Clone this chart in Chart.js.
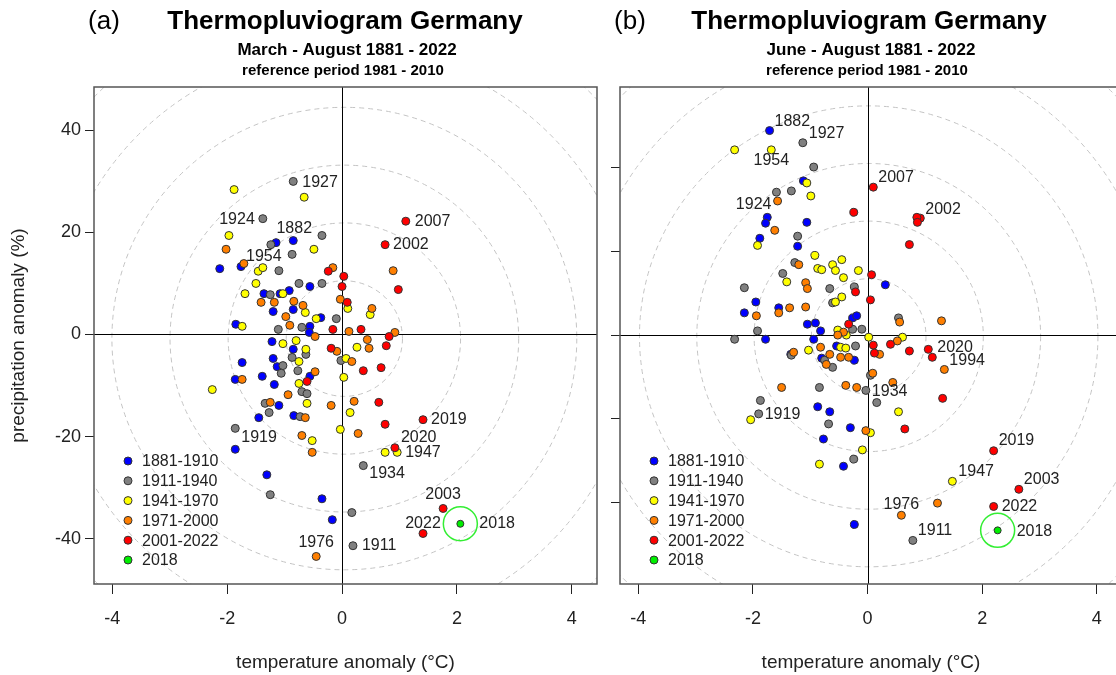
<!DOCTYPE html>
<html>
<head>
<meta charset="utf-8">
<title>Thermopluviogram Germany</title>
<script src="https://cdn.jsdelivr.net/npm/chart.js@4.4.0/dist/chart.umd.min.js"></script>
<style>
  html, body { margin: 0; padding: 0; background: #fff; overflow: hidden; width: 1116px; height: 675px; }
  #chartA { position: absolute; left: 0; top: 0; }
  #chartB { position: absolute; left: 600px; top: 0; }
</style>
</head>
<body>
<canvas id="chartA" width="600" height="675"></canvas>
<canvas id="chartB" width="525" height="675"></canvas>
<script>
// periods and axis ticks
const periods = ['1881-1910', '1911-1940', '1941-1970', '1971-2000', '2001-2022', '2018'];
const xTicks = [-4, -2, 0, 2, 4];
const yTicks = [-40, -20, 0, 20, 40];

// (a) March - August : [temperature anomaly, precipitation anomaly, labelled year]
const a1881 = [[-1.15,18.0],[-0.85,18.4,1882],[-2.13,12.9],[-1.76,13.3],[-0.56,9.4],[-1.36,8.0],[-1.08,8.0],[-0.92,8.6],[-0.85,4.9],[-1.20,4.5],[-0.37,3.3],[-0.56,1.6],[-0.57,0.4],[-1.85,2.0],[-1.22,-1.4],[-0.85,-2.9],[-1.74,-5.5],[-1.20,-4.7],[-1.13,-6.3],[-1.39,-8.2],[-0.56,-8.2],[-1.86,-8.8],[-1.18,-9.8],[-1.10,-13.9],[-1.45,-16.3],[-0.84,-15.9],[-1.86,-22.5],[-1.31,-27.5],[-0.35,-32.2],[-0.17,-36.3]];
const a1911 = [[-0.85,30.0,1927],[-1.38,22.7,1924],[-0.35,19.4],[-1.24,17.6],[-0.87,15.7],[-1.10,12.5],[-0.75,10.0],[-0.35,10.0],[-1.25,7.8],[-0.10,3.1],[-1.11,1.0],[-0.70,1.4],[-0.87,-4.5],[-0.63,-3.9],[-0.02,-5.1],[-1.03,-6.1],[-1.06,-7.6],[-0.77,-7.1],[-0.70,-11.2],[-0.61,-11.6],[-1.34,-13.5],[-1.27,-15.3],[-0.73,-16.1],[-1.86,-18.4,1919],[-1.25,-31.4],[0.17,-34.9],[0.19,-41.4,1911],[0.37,-25.7,1934]];
const a1941 = [[-1.88,28.4],[-0.66,26.9],[-1.97,19.4],[-0.49,16.7],[-1.46,12.4],[-1.38,13.1,1954],[-1.50,10.0],[-1.69,8.0],[-1.03,8.0],[-0.64,4.3],[-0.45,3.1],[-1.74,1.6],[0.10,5.1],[0.49,3.9],[-1.03,-1.8],[-0.80,-1.2],[-0.63,-2.9],[0.07,-4.7],[0.26,-2.5],[-0.75,-5.3],[0.03,-8.4],[-0.75,-9.6],[-2.26,-10.8],[-0.61,-13.5],[0.14,-15.3],[-0.52,-20.8],[-0.03,-18.6],[0.75,-23.1],[0.96,-23.1,1947]];
const a1971 = [[-2.02,16.7],[-1.71,13.9],[-0.16,13.1],[-1.41,6.3],[-1.18,6.3],[-0.84,6.5],[-0.68,5.7],[-0.03,6.9],[0.52,5.1],[0.89,12.5],[-0.98,3.5],[-0.91,1.8],[-0.47,-0.4],[0.12,0.6],[0.92,0.4],[0.44,-1.0],[-0.09,-3.3],[0.47,-2.7],[0.17,-5.3],[-0.47,-7.3],[-1.74,-8.8],[-0.94,-11.8],[-1.25,-13.3],[-0.19,-13.9],[0.21,-13.1],[-0.64,-16.3],[-0.70,-19.8],[-0.52,-23.1],[0.28,-19.4],[-0.45,-43.5,1976]];
const a2001 = [[1.11,22.2,2007],[0.75,17.6,2002],[-0.24,12.4],[0.03,11.4],[0.0,9.4],[0.98,8.8],[0.09,6.3],[-0.16,1.0],[0.33,1.0],[0.82,-0.4],[0.77,-2.2],[-0.19,-2.7],[0.37,-7.1],[0.68,-6.5],[-0.61,-9.2],[0.64,-13.3],[0.75,-17.6],[1.41,-16.7,2019],[0.92,-22.2,2020],[1.76,-34.1,2003],[1.41,-39.0,2022]];
const a2018 = [[2.06,-37.1,2018]];

// (b) June - August
const b1881 = [[-1.71,48.8,1882],[-1.12,36.8],[-1.75,28.1],[-1.78,26.7],[-1.06,26.9],[-1.88,23.1],[-1.22,21.2],[-1.95,7.9],[-2.15,5.3],[-1.55,6.5],[-0.26,4.1],[-0.19,4.6],[-1.05,2.6],[-0.91,2.9],[-0.82,1.0],[-1.78,-1.0],[-0.94,-1.0],[0.31,12.0],[-0.54,-2.6],[-1.34,-4.6],[-0.80,-5.5],[-0.23,-6.0],[-0.87,-17.1],[-0.66,-18.3],[-0.30,-22.1],[-0.77,-24.8],[-0.42,-31.3],[-0.23,-45.2]];
const b1911 = [[-1.13,45.9,1927],[-0.94,40.1],[-1.59,34.1,1924],[-1.33,34.4],[-1.22,23.6],[-1.27,17.3],[-1.48,14.7],[-2.15,11.3],[-0.66,11.1],[-0.23,11.5],[-0.61,7.7],[-1.92,1.0],[-0.10,1.4],[-0.26,1.4],[0.54,4.1],[-2.32,-1.0],[-0.21,-2.6],[-1.33,-4.8],[-0.75,-6.0],[-0.61,-7.7],[0.05,-9.6],[-0.03,-13.2,1934],[-0.84,-12.5],[0.16,-16.1],[-1.87,-15.6],[-1.90,-18.8,1919],[-0.68,-21.2],[-0.24,-29.6],[0.79,-49.0,1911]];
const b1941 = [[-2.32,44.2],[-1.68,44.2,1954],[-1.06,36.3],[-0.99,33.2],[-1.92,21.4],[-0.92,19.0],[-0.61,16.8],[-0.45,18.0],[-0.87,15.9],[-0.80,15.6],[-0.56,15.4],[-0.16,15.4],[-1.41,12.7],[-0.42,13.7],[-0.56,7.9],[-0.45,9.1],[-0.52,1.2],[-0.37,0.0],[0.02,-0.5],[0.61,-0.5],[-0.47,-2.9],[-0.38,-3.1],[-1.03,-3.6],[0.05,-23.3],[0.54,-18.3],[-2.04,-20.2],[-0.09,-27.4],[-0.84,-30.8],[1.48,-34.9,1947]];
const b1971 = [[-1.57,32.0],[-1.62,25.0],[-1.20,16.8],[-1.08,12.5],[-1.05,11.1],[-1.94,4.6],[-1.55,5.3],[-1.36,6.5],[-1.08,6.7],[-0.42,0.7],[-0.52,0.0],[0.56,3.1],[1.29,3.4],[0.52,-1.4],[0.21,-4.6],[-0.82,-2.9],[-1.29,-4.1],[-0.66,-4.6],[-0.72,-7.0],[-0.47,-5.3],[-0.33,-5.3],[0.09,-9.1],[0.44,-11.3],[-1.50,-12.5],[-0.38,-12.0],[-0.19,-12.5],[-0.03,-22.8],[1.34,-8.2,1994],[1.22,-40.1],[0.59,-43.0,1976]];
const b2001 = [[0.10,35.3,2007],[-0.24,29.3],[0.92,27.9,2002],[0.86,28.1],[0.87,26.9],[0.73,21.6],[0.07,14.4],[-0.21,10.3],[0.05,8.4],[-0.33,2.6],[0.40,-2.2],[0.10,-2.4],[0.12,-4.3],[0.73,-3.8],[1.06,-3.4,2020],[1.13,-5.3],[1.31,-15.1],[0.65,-22.4],[2.20,-27.6,2019],[2.64,-36.8,2003],[2.20,-40.9,2022]];
const b2018 = [[2.27,-46.6,2018]];

// rings: one step in temperature (°C) and precipitation (%)
const ringA = { cx: 0.04, cy: -0.8, stepT: 1.012, stepP: 11.33 };
const ringB = { cx: 0.02, cy: -0.3, stepT: 1.0, stepP: 13.75 };

const colors = ['#0000ff', '#808080', '#ffff00', '#ff7f00', '#ff0000', '#00ee00'];
const FONT = "'Liberation Sans', Arial, sans-serif";
Chart.defaults.font.family = FONT;

// label placement [dx, dy, align] in px
const labelPosA = {1927:[9,1,'left'],1924:[-8,1,'right'],1882:[1,-12,'center'],1954:[1,-11,'center'],2007:[9,0,'left'],2002:[8,0,'left'],2019:[8,0,'left'],2020:[6,-10,'left'],1947:[8,0,'left'],1934:[6,8,'left'],2003:[0,-14,'center'],2022:[0,-10,'center'],2018:[19,0,'left'],1911:[9,0,'left'],1976:[0,-14,'center'],1919:[6,9,'left']};
const labelPosB = {1882:[5,-9,'left'],1927:[6,-9,'left'],1954:[0,11,'center'],1924:[-5,12,'right'],2007:[5,-10,'left'],2002:[5,-9,'left'],2020:[9,-2,'left'],1994:[5,-9,'left'],1934:[6,1,'left'],1919:[6,1,'left'],2019:[5,-10,'left'],1947:[6,-10,'left'],2003:[5,-10,'left'],1976:[0,-11,'center'],2022:[8,0,'left'],2018:[19,1,'left'],1911:[5,-10,'left']};

function makeDecor(cfg) {
    return {
        id: 'decor',
        beforeDatasetsDraw(chart) {
            const {ctx, chartArea: a, scales: {x, y}} = chart;
            ctx.save();
            ctx.beginPath();
            ctx.rect(a.left, a.top, a.right - a.left, a.bottom - a.top);
            ctx.clip();
            ctx.strokeStyle = '#c4c4c4';
            ctx.lineWidth = 1;
            ctx.setLineDash([5, 4]);
            const r = cfg.ring;
            const cx = x.getPixelForValue(r.cx), cy = y.getPixelForValue(r.cy);
            for (let k = 1; k <= 6; k++) {
                const rx = x.getPixelForValue(r.cx + k * r.stepT) - cx;
                const ry = cy - y.getPixelForValue(r.cy + k * r.stepP);
                ctx.beginPath();
                ctx.ellipse(cx, cy, rx, ry, 0, 0, 2 * Math.PI);
                ctx.stroke();
            }
            ctx.setLineDash([]);
            ctx.strokeStyle = '#000';
            const x0 = Math.round(x.getPixelForValue(0)) + 0.5, y0 = Math.round(y.getPixelForValue(0)) + 0.5;
            ctx.beginPath();
            ctx.moveTo(x0, a.top); ctx.lineTo(x0, a.bottom);
            ctx.moveTo(a.left, y0); ctx.lineTo(a.right, y0);
            ctx.stroke();
            ctx.restore();
        },
        afterDatasetsDraw(chart) {
            const {ctx, chartArea: a} = chart;
            ctx.save();
            // year labels
            ctx.font = '16px ' + FONT;
            ctx.fillStyle = '#222';
            ctx.textBaseline = 'middle';
            chart.data.datasets.forEach((ds, i) => {
                if (ds.halo) return;
                const meta = chart.getDatasetMeta(i);
                ds.data.forEach((d, j) => {
                    const yr = d[2];
                    if (!yr || !cfg.labels[yr]) return;
                    const [dx, dy, al] = cfg.labels[yr];
                    const el = meta.data[j];
                    ctx.textAlign = al;
                    ctx.fillText(String(yr), el.x + dx, el.y + dy);
                });
            });
            // legend
            periods.forEach((p, i) => {
                const lx = a.left + 34, ly = 461 + i * 19.8;
                ctx.beginPath();
                ctx.arc(lx, ly, 4, 0, 2 * Math.PI);
                ctx.fillStyle = colors[i];
                ctx.fill();
                ctx.strokeStyle = '#333';
                ctx.lineWidth = 1;
                ctx.stroke();
                ctx.fillStyle = '#222';
                ctx.textAlign = 'left';
                ctx.fillText(p, lx + 14, ly + 1);
            });
            // box
            ctx.strokeStyle = '#555';
            ctx.lineWidth = 1.5;
            ctx.strokeRect(a.left, a.top, a.right - a.left, a.bottom - a.top);
            ctx.restore();
        },
        afterDraw(chart) {
            const ctx = chart.ctx;
            const c = cfg.center;
            ctx.save();
            ctx.fillStyle = '#000';
            ctx.textBaseline = 'middle';
            ctx.textAlign = 'center';
            ctx.font = '26px ' + FONT;
            ctx.fillText(cfg.tag, cfg.tagX, 22);
            ctx.font = 'bold 26px ' + FONT;
            ctx.fillText('Thermopluviogram Germany', c, 22);
            ctx.font = 'bold 17px ' + FONT;
            ctx.fillText(cfg.subtitle, c + 2, 50);
            ctx.font = 'bold 15px ' + FONT;
            ctx.fillText('reference period 1981 - 2010', c - 2, 71);
            ctx.restore();
        }
    };
}

function makeChart(id, sets, cfg) {
    const pt = (data, i) => ({
        label: periods[i], data: data,
        pointRadius: i === 5 ? 3.5 : 4, pointBorderWidth: 1,
        pointBackgroundColor: colors[i], pointBorderColor: '#333'
    });
    const datasets = [
        { label: 'halo', halo: true, data: sets[5], pointRadius: 17, pointBorderWidth: 1.5,
          pointBackgroundColor: 'rgba(0,0,0,0)', pointBorderColor: '#33ee33' },
        pt(sets[5], 5), pt(sets[4], 4), pt(sets[3], 3), pt(sets[2], 2), pt(sets[1], 1), pt(sets[0], 0)
    ];
    return new Chart(document.getElementById(id), {
        type: 'scatter',
        data: { datasets: datasets },
        plugins: [makeDecor(cfg)],
        options: {
            responsive: false,
            animation: false,
            events: [],
            layout: { autoPadding: false, padding: { top: 87, right: 3, bottom: 0, left: 0 } },
            plugins: { legend: { display: false }, tooltip: { enabled: false } },
            scales: {
                x: {
                    type: 'linear', min: -4.32, max: 4.44,
                    afterBuildTicks: s => { s.ticks = xTicks.map(v => ({ value: v })); },
                    afterFit: s => { s.height = 91; s.paddingLeft = 0; s.paddingRight = 0; },
                    grid: { drawOnChartArea: false, drawTicks: true, tickLength: 10, color: '#222' },
                    border: { display: false },
                    ticks: { color: '#222', font: { size: 18 }, padding: 14 },
                    title: { display: true, text: 'temperature anomaly (°C)', color: '#222',
                             font: { size: 19 }, padding: { top: 0, bottom: 1 } }
                },
                y: {
                    type: 'linear', min: cfg.yMin, max: cfg.yMax,
                    afterBuildTicks: s => { s.ticks = yTicks.map(v => ({ value: v })); },
                    afterFit: s => { s.width = cfg.yWidth; s.paddingTop = 0; s.paddingBottom = 0; },
                    grid: { drawOnChartArea: false, drawTicks: true, tickLength: 9, color: '#222' },
                    border: { display: false },
                    ticks: { display: cfg.yLabels, color: '#222', font: { size: 18 }, padding: 4 },
                    title: { display: cfg.yLabels, text: 'precipitation anomaly (%)', color: '#222',
                             font: { size: 19 }, padding: { top: 7, bottom: 0 } }
                }
            }
        }
    });
}

makeChart('chartA', [a1881, a1911, a1941, a1971, a2001, a2018], {
    ring: ringA, labels: labelPosA, yMin: -48.9, yMax: 48.5, yWidth: 94, yLabels: true,
    tag: '(a)', tagX: 104, center: 345, subtitle: 'March - August 1881 - 2022'
});
makeChart('chartB', [b1881, b1911, b1941, b1971, b2001, b2018], {
    ring: ringB, labels: labelPosB, yMin: -59.4, yMax: 59.2, yWidth: 20, yLabels: false,
    tag: '(b)', tagX: 30, center: 269, subtitle: 'June - August 1881 - 2022'
});
</script>
</body>
</html>
